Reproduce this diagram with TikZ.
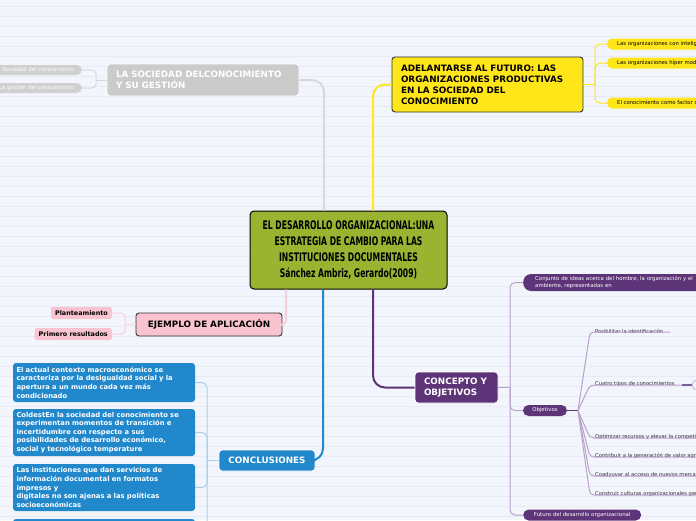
\documentclass[tikz,border=0pt]{standalone}
\usepackage{fontspec}
\setmainfont{DejaVu Sans}
\newfontfamily\condfont{DejaVu Sans Condensed}
\usetikzlibrary{calc}
\definecolor{bg}{HTML}{F3F5FC}
\definecolor{bgline}{HTML}{E9EBF4}
\definecolor{olive}{HTML}{9AB331}
\definecolor{greyb}{HTML}{CBCBCB}
\definecolor{greyl}{HTML}{D8D8DC}
\definecolor{yel}{HTML}{FFE619}
\definecolor{pinkb}{HTML}{F9C4CF}
\definecolor{pinkl}{HTML}{F7CFD8}
\definecolor{blueb}{HTML}{2288CC}
\definecolor{bluel}{HTML}{A9CFEC}
\definecolor{purp}{HTML}{5E3478}
\definecolor{purpl}{HTML}{B9A2CA}
\tikzset{
  topic/.style={draw=black!80, line width=0.9pt, rounded corners=3pt, inner xsep=9pt, inner ysep=0pt,
    font=\bfseries\fontsize{8.8}{11}\selectfont, align=left},
  central/.style={draw=black, line width=1pt, rounded corners=4pt, fill=olive, inner sep=0pt,
    minimum width=197pt, minimum height=78pt, align=center,
    font=\condfont\bfseries\fontsize{11.8}{16}\selectfont},
  bchild/.style={fill=blueb, rounded corners=3pt, text=white, inner xsep=3.5pt, inner ysep=0pt,
    text width=175pt, align=left, font=\bfseries\fontsize{6.8}{8.6}\selectfont},
  gpill/.style={fill=greyb!90, text=white, rounded corners=5pt, inner xsep=8pt, inner ysep=0pt,
    minimum height=10pt, font=\fontsize{5.3}{6}\selectfont},
  ypill/.style={fill=yel, text=black, rounded corners=5pt, inner xsep=10pt, inner ysep=0pt,
    minimum height=11pt, anchor=west, font=\fontsize{5.3}{6}\selectfont},
  ppill/.style={fill=pinkb, text=black, rounded corners=2pt, inner xsep=4pt, inner ysep=0pt,
    minimum height=12pt, anchor=east, font=\bfseries\fontsize{6.4}{7}\selectfont},
  opill/.style={fill=purp, text=white, rounded corners=5.5pt, inner ysep=0pt,
    minimum height=11pt, font=\fontsize{5.4}{6.5}\selectfont},
  subtxt/.style={anchor=south west, inner sep=0pt, text=black!85, font=\fontsize{5.2}{6}\selectfont},
  mainconn/.style={line width=2pt},
  childconn/.style={line width=1pt},
}
\begin{document}
\begin{tikzpicture}[x=1pt,y=-1pt]
\useasboundingbox (0,0) rectangle (696,520);
\clip (0,0) rectangle (696,520);
\fill[bg] (0,0) rectangle (696,520);
\foreach \i in {0,...,52} \draw[bgline, line width=0.5pt] (0,{\i*10+6}) -- (696,{\i*10+6});

% central
\node[central] (c) at (348.5,250) {%
  \scalebox{0.72}[1]{EL DESARROLLO ORGANIZACIONAL:UNA}\\
  \scalebox{0.72}[1]{ESTRATEGIA DE CAMBIO PARA LAS}\\
  \scalebox{0.72}[1]{INSTITUCIONES DOCUMENTALES}\\
  \scalebox{0.72}[1]{Sánchez Ambriz, Gerardo(2009)}};

% topics
\node[topic, draw=white, fill=greyb, text=white, text width=174pt, minimum height=32pt] (g) at (203,80)
  {LA SOCIEDAD DELCONOCIMIENTO\\Y SU GESTIÓN};
\node[topic, fill=yel, text width=173pt, minimum height=55pt] (y) at (487.5,84.5)
  {ADELANTARSE AL FUTURO: LAS\\ORGANIZACIONES PRODUCTIVAS\\EN LA SOCIEDAD DEL\\CONOCIMIENTO};
\node[topic, fill=pinkb, text width=128pt, minimum height=23pt, align=center] (p) at (209,324.5)
  {EJEMPLO DE APLICACIÓN};
\node[topic, draw=white, fill=blueb, text=white, text width=78pt, minimum height=21pt, align=center] (b) at (267,460.5)
  {CONCLUSIONES};
\node[topic, draw=white, fill=purp, text=white, text width=65pt, minimum height=31pt] (o) at (456.5,387.5)
  {CONCEPTO Y\\OBJETIVOS};

% main connectors
\draw[mainconn, greyl, rounded corners=12pt] ([xshift=-24.5pt]c.north) |- (g.east);
\draw[mainconn, yel, rounded corners=12pt] ([xshift=24.5pt]c.north) |- (y.west);
\draw[mainconn, pinkl, rounded corners=4pt] ([xshift=-62.5pt]c.south) |- (p.east);
\draw[mainconn, blueb, rounded corners=12pt] ([xshift=-25.5pt]c.south) |- (b.east);
\draw[mainconn, purp, rounded corners=12pt] ([xshift=24.5pt]c.south) |- (o.west);

% grey children
\node[gpill, anchor=east] (g1) at (82,70) {Sociedad del conocimiento};
\node[gpill, anchor=east] (g2) at (82,88) {La gestión del conocimiento};
\coordinate (gj) at (96,80);
\draw[childconn, greyl] (g.west) -- (gj);
\draw[childconn, greyl, rounded corners=4pt] (gj) |- (g1.east);
\draw[childconn, greyl, rounded corners=4pt] (gj) |- (g2.east);

% yellow children
\node[ypill] (y1) at (607,44) {Las organizaciones con inteligencia};
\node[ypill] (y2) at (607,63) {Las organizaciones híper modernas};
\node[ypill] (y3) at (607,103) {El conocimiento como factor de producción};
\coordinate (yj) at (595,84.5);
\draw[childconn, yel] (y.east) -- (yj);
\foreach \k in {y1,y2,y3} \draw[childconn, yel, rounded corners=5pt] (yj) |- (\k.west);

% pink children
\node[ppill] (p1) at (112,313) {Planteamiento};
\node[ppill] (p2) at (112,334) {Primero resultados};
\coordinate (pj) at (125,324.5);
\draw[childconn, pinkl] (p.west) -- (pj);
\foreach \k in {p1,p2} \draw[childconn, pinkl, rounded corners=4pt] (pj) |- (\k.east);

% blue children
\node[bchild, minimum height=39pt] (b1) at (104,382.5)
  {El actual contexto macroeconómico se\\caracteriza por la desigualdad social y la\\apertura a un mundo cada vez más\\condicionado};
\node[bchild, minimum height=47pt] (b2) at (104,432.5)
  {ColdestEn la sociedad del conocimiento se\\experimentan momentos de transición e\\incertidumbre con respecto a sus\\posibilidades de desarrollo económico,\\social y tecnológico temperature};
\node[bchild, minimum height=47pt] (b3) at (104,487.5)
  {Las instituciones que dan servicios de\\información documental en formatos\\impresos y\\digitales no son ajenas a las políticas\\socioeconómicas};
\node[bchild, minimum height=42pt] (b4) at (104,540) {};
\coordinate (bj) at (207,460.5);
\draw[childconn, bluel] (b.west) -- (bj);
\foreach \k in {b1,b2,b3,b4} \draw[childconn, bluel, rounded corners=5pt] (bj) |- (\k.east);

% purple children
\node[opill, anchor=west, inner xsep=12pt, minimum height=17pt, text width=200pt, rounded corners=8pt, align=left] (o1) at (523,282.5)
  {Conjunto de ideas acerca del hombre, la organización y el\\ambiente, representadas en};
\node[opill, minimum width=44pt, inner xsep=0pt] (o2) at (545,410.5) {Objetivos};
\node[opill, anchor=west, minimum width=118pt, inner xsep=0pt] (o3) at (523,515) {Futuro del desarrollo organizacional};
\coordinate (oj0) at (510,387.5);
\draw[childconn, purpl] (o.east) -- (oj0);
\foreach \k in {o1,o2,o3} \draw[childconn, purpl, rounded corners=5pt] (oj0) |- (\k.west);

% objetivos children
\coordinate (oj) at (578,410.5);
\draw[childconn, purp] (o2.east) -- (oj);
\node[subtxt] (s1) at (595,333.5) {Posibilitar la identificación};
\node[subtxt] (s2) at (595,386.5) {Cuatro tipos de conocimientos};
\node[subtxt] (s3) at (595,439.5) {Optimizar recursos y elevar la competitividad};
\node[subtxt] (s4) at (595,458.5) {Contribuir a la generación de valor agregado};
\node[subtxt] (s5) at (595,477.5) {Coadyuvar al acceso de nuevos mercados};
\node[subtxt] (s6) at (595,496.5) {Construir culturas organizacionales generadoras};
\draw[childconn, purpl, rounded corners=4pt] (oj) -- ($(s1.south west)+(-5,-1.5)$) -- ($(s1.south west)+(75,-1.5)$);
\draw[childconn, purpl, rounded corners=4pt] (oj) -- ($(s2.south west)+(-5,-1.5)$) -- ($(s2.south west)+(87,-1.5)$) coordinate (s2e);
\draw[line width=1.8pt, purp!80] (s2e) -- ++(10,0) coordinate (s2f);
\draw[line width=0.6pt, purpl] ($(s2f)+(5,0)$) circle (5pt);
\foreach \k in {s3,s4,s5,s6}
  \draw[childconn, purpl, rounded corners=4pt] (oj) -- ($(\k.south west)+(-5,-1.5)$) -- ($(\k.south west)+(120,-1.5)$);
\end{tikzpicture}
\end{document}
